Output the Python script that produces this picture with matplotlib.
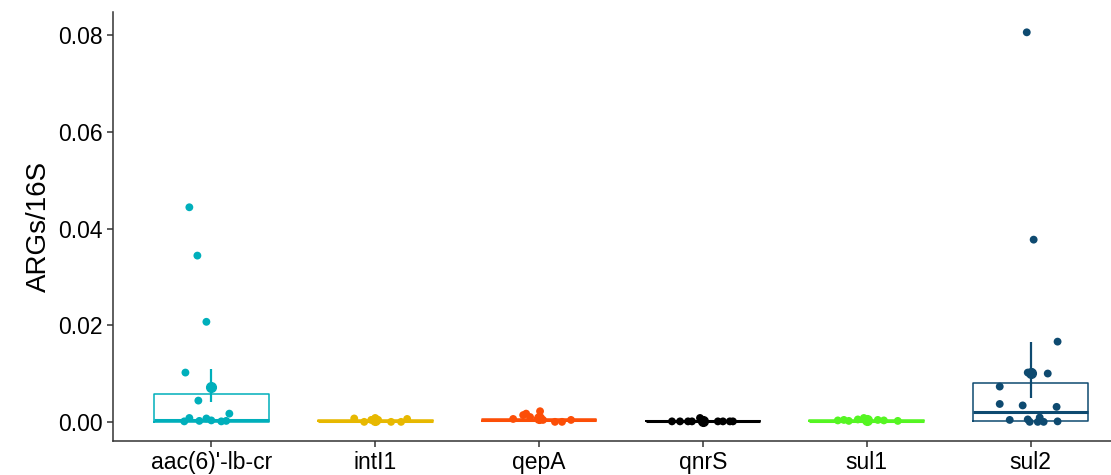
import matplotlib
matplotlib.use("Agg")
import matplotlib.pyplot as plt

plt.rcParams['font.family'] = ['Liberation Sans', 'DejaVu Sans']

genes = ["aac(6)'-lb-cr", "intI1", "qepA", "qnrS", "sul1", "sul2"]
colors = ["#00AFBB", "#E7B800", "#FC4E07", "#000000", "#55F522", "#0E4A70"]

# jittered sample values (ARGs/16S)
aac_vals = [0.0444, 0.0344, 0.0207, 0.0102, 0.0044, 0.0017, 0.0001, 0.0008, 0.0002, 0.0007, 0.0003, 0.0001, 0.0002]
intI1_vals = [0.0007, 0.0000, 0.0004, 0.0008, 0.0004, 0.0000, 0.0000, 0.0006]
qepA_vals = [0.0006, 0.0014, 0.0017, 0.0010, 0.0022, 0.0004, 0.0000, 0.0000, 0.0004]
qnrS_vals = [0.0001, 0.0001, 0.0001, 0.0001, 0.0008, 0.0001, 0.0001, 0.0001, 0.0001, 0.0001]
sul1_vals = [0.0003, 0.0004, 0.0002, 0.0005, 0.0008, 0.0003, 0.0004, 0.0003, 0.0002]
sul2_vals = [0.0806, 0.0377, 0.0166, 0.0102, 0.0103, 0.0100, 0.0073, 0.0037, 0.0034, 0.0031,
             0.0004, 0.0005, 0.0000, 0.0009, 0.0000, 0.0000, 0.0001]

# horizontal jitter as seen in the picture
aac_jit = [-0.134, -0.085, -0.030, -0.158, -0.079, 0.110, -0.165, -0.134, -0.073, -0.030, 0.0, 0.061, 0.091]
intI1_jit = [-0.128, -0.067, -0.024, 0.0, 0.018, 0.097, 0.158, 0.195]
qepA_jit = [-0.158, -0.097, -0.079, -0.055, 0.006, 0.024, 0.097, 0.140, 0.195]
qnrS_jit = [-0.189, -0.140, -0.091, -0.067, -0.018, -0.006, 0.091, 0.122, 0.164, 0.183]
sul1_jit = [-0.177, -0.140, -0.110, -0.055, -0.018, 0.006, 0.067, 0.104, 0.189]
sul2_jit = [-0.024, 0.018, 0.164, -0.018, 0.006, 0.104, -0.189, -0.189, -0.049, 0.158,
            -0.128, -0.018, -0.006, 0.055, 0.043, 0.079, 0.164]

values = [aac_vals, intI1_vals, qepA_vals, qnrS_vals, sul1_vals, sul2_vals]
jitters = [aac_jit, intI1_jit, qepA_jit, qnrS_jit, sul1_jit, sul2_jit]

# box stats and mean +/- se
q1 = [0.0000, 0.0002, 0.0001, 0.0001, 0.0002, 0.0002]
med = [0.0003, 0.0002, 0.0003, 0.0001, 0.0002, 0.0021]
q3 = [0.0058, 0.0003, 0.0005, 0.0002, 0.0003, 0.0081]
means = [0.0073, 0.0003, 0.0007, 0.0002, 0.0004, 0.0102]
err_lo = [0.0042, 0.0001, 0.0004, 0.0001, 0.0003, 0.0050]
err_hi = [0.0109, 0.0005, 0.0010, 0.0003, 0.0005, 0.0166]

fig = plt.figure(figsize=(11.11, 4.75), dpi=100)
ax = fig.add_axes([0.1017, 0.0722, 0.8983, 0.9025])

stats = [dict(med=med[i], q1=q1[i], q3=q3[i], whislo=q1[i], whishi=q3[i], fliers=[])
         for i in range(len(genes))]
bp = ax.bxp(stats, positions=range(len(genes)), widths=0.7, showfliers=False,
            showcaps=False, patch_artist=False)
for i, c in enumerate(colors):
    bp['boxes'][i].set(color=c, linewidth=1.1)
    bp['medians'][i].set(color=c, linewidth=2.2)
    for w in bp['whiskers'][2 * i:2 * i + 2]:
        w.set(color=c, linewidth=1.1)

for i, c in enumerate(colors):
    xs = [i + j for j in jitters[i]]
    ax.scatter(xs, values[i], s=32, color=c, edgecolors='none', zorder=3)
    ax.errorbar([i], [means[i]], yerr=[[means[i] - err_lo[i]], [err_hi[i] - means[i]]],
                fmt='o', ms=7, color=c, elinewidth=1.6, capsize=0, zorder=4)

ax.set_xlim(-0.6, 5.49)
ax.set_ylim(-0.0039, 0.0848)
ax.set_xticks(range(len(genes)))
ax.set_xticklabels(genes)
ax.set_yticks([0.0, 0.02, 0.04, 0.06, 0.08])
ax.set_yticklabels(["0.00", "0.02", "0.04", "0.06", "0.08"])
ax.set_ylabel("ARGs/16S", fontsize=20, labelpad=4)

for s in ['top', 'right']:
    ax.spines[s].set_visible(False)
for s in ['left', 'bottom']:
    ax.spines[s].set_linewidth(1.1)
    ax.spines[s].set_color('#333333')
ax.tick_params(axis='both', labelsize=16.5, length=4.5, width=1.1, color='#333333',
               labelcolor='black', pad=3)

fig.savefig("out.png", dpi=100)
